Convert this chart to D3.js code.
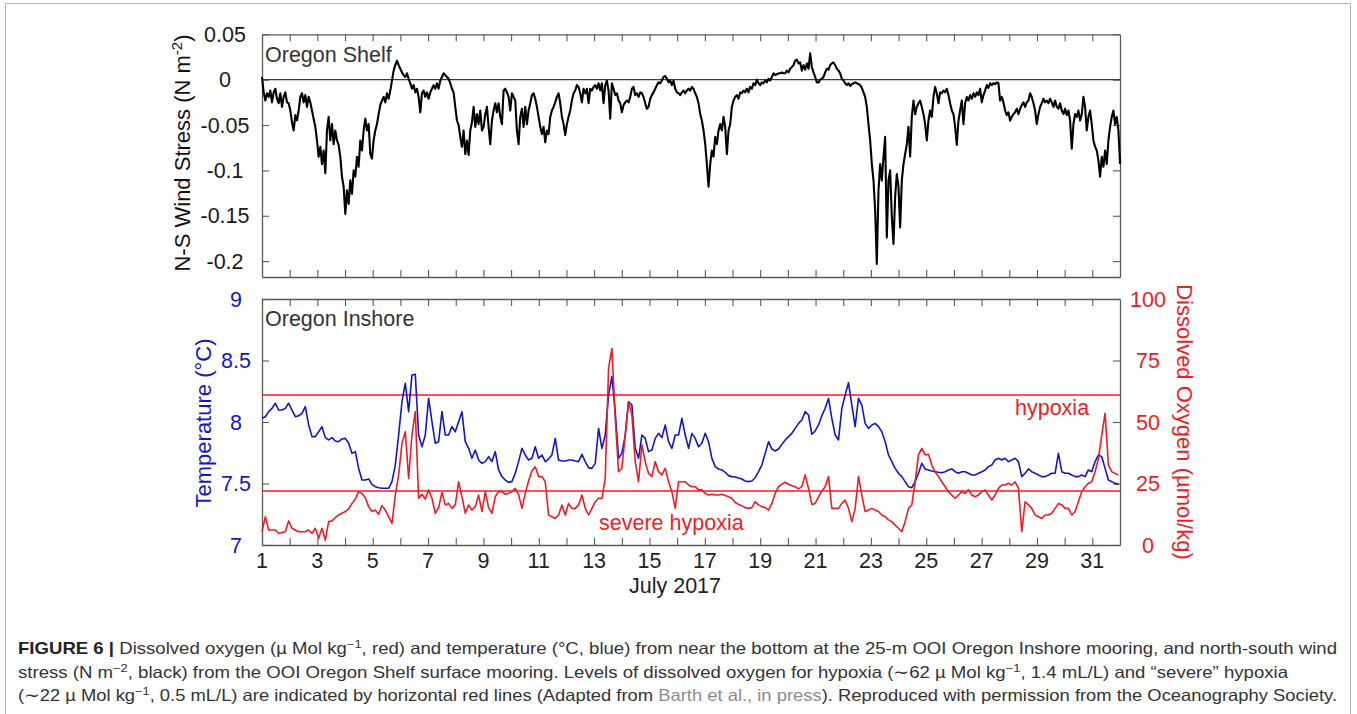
<!DOCTYPE html>
<html><head><meta charset="utf-8">
<script src="https://cdn.jsdelivr.net/npm/d3@7"></script>
<style>
body{margin:0;background:#fff}
svg{display:block}
text{font-family:"Liberation Sans",Arial,Helvetica,sans-serif}
</style>
</head><body>
<svg id="c" width="1357" height="714"></svg>
<script>
// ---------------- DATA ----------------
// N-S wind stress (N m^-2), Oregon Shelf, sampled every windStepDays from July 1
const windStartDay = 1;
const windStepDays = 0.0602;
const windStress = [
0.003,-0.014,-0.023,-0.015,-0.019,-0.012,-0.025,-0.014,-0.010,-0.021,
-0.026,-0.015,-0.030,-0.019,-0.014,-0.025,-0.026,-0.034,-0.047,-0.056,
-0.039,-0.045,-0.034,-0.019,-0.015,-0.025,-0.017,-0.030,-0.019,-0.025,
-0.034,-0.043,-0.052,-0.067,-0.085,-0.074,-0.093,-0.078,-0.103,-0.056,
-0.041,-0.067,-0.049,-0.071,-0.056,-0.067,-0.072,-0.085,-0.107,-0.118,
-0.148,-0.122,-0.137,-0.111,-0.126,-0.100,-0.107,-0.085,-0.096,-0.067,
-0.078,-0.056,-0.043,-0.056,-0.049,-0.082,-0.087,-0.067,-0.056,-0.049,
-0.038,-0.028,-0.023,-0.019,-0.025,-0.015,-0.021,-0.012,-0.001,0.010,
0.016,0.021,0.016,0.012,0.008,0.005,0.003,0.007,0.001,-0.004,
-0.010,-0.006,-0.014,-0.010,-0.019,-0.036,-0.015,-0.012,-0.019,-0.014,
-0.021,-0.014,-0.010,-0.006,-0.010,-0.004,-0.010,-0.001,0.003,0.007,
0.005,0.003,0.001,-0.004,-0.010,-0.014,-0.030,-0.045,-0.050,-0.063,
-0.074,-0.056,-0.082,-0.067,-0.083,-0.056,-0.047,-0.030,-0.052,-0.038,
-0.049,-0.034,-0.056,-0.052,-0.038,-0.030,-0.052,-0.071,-0.045,-0.034,
-0.026,-0.036,-0.026,-0.041,-0.049,-0.012,-0.010,-0.014,-0.019,-0.034,
-0.015,-0.019,-0.023,-0.056,-0.071,-0.041,-0.032,-0.052,-0.030,-0.049,
-0.034,-0.026,-0.017,-0.015,-0.021,-0.030,-0.041,-0.052,-0.060,
-0.052,-0.069,-0.056,-0.060,-0.041,-0.034,-0.030,-0.025,-0.019,-0.015,
-0.026,-0.041,-0.049,-0.061,-0.049,-0.041,-0.034,-0.023,-0.015,-0.012,
-0.006,-0.008,-0.015,-0.025,-0.010,-0.015,-0.010,-0.026,-0.010,-0.012,
-0.008,-0.006,-0.010,-0.004,-0.012,-0.004,-0.026,-0.006,-0.001,-0.012,
-0.043,-0.004,-0.010,-0.017,-0.015,-0.023,-0.026,-0.036,-0.028,-0.025,
-0.023,-0.025,-0.019,-0.010,-0.008,-0.017,-0.015,-0.019,-0.014,-0.015,
-0.019,-0.026,-0.032,-0.030,-0.021,-0.017,-0.014,-0.010,-0.006,-0.003,
-0.004,-0.001,0.003,0.004,0.001,-0.003,-0.001,-0.006,-0.001,-0.010,
-0.014,-0.015,-0.017,-0.014,-0.012,-0.015,-0.012,-0.010,-0.012,-0.008,
-0.010,-0.015,-0.019,-0.026,-0.038,-0.045,-0.056,-0.071,-0.093,-0.118,
-0.093,-0.078,-0.085,-0.063,-0.071,-0.056,-0.049,-0.056,-0.041,-0.052,
-0.082,-0.056,-0.049,-0.030,-0.023,-0.019,-0.017,-0.021,-0.014,-0.015,
-0.012,-0.014,-0.010,-0.014,-0.008,-0.010,-0.004,-0.006,0.000,-0.004,
-0.006,-0.003,-0.004,-0.001,-0.003,0.001,-0.001,0.003,0.007,0.005,
0.006,0.007,0.007,0.008,0.007,0.007,0.010,0.008,0.012,0.014,
0.016,0.021,0.022,0.018,0.019,0.010,0.016,0.011,0.018,0.012,
0.029,0.014,0.008,0.003,-0.003,-0.003,0.000,0.001,0.003,0.008,
0.012,0.011,
0.016,0.018,0.019,0.016,0.012,0.010,0.007,0.001,-0.001,-0.004,
-0.006,-0.004,-0.007,-0.005,-0.004,-0.003,-0.004,-0.005,-0.006,-0.009,
-0.014,-0.019,-0.030,-0.049,-0.067,-0.093,-0.111,-0.144,-0.203,-0.122,
-0.093,-0.111,-0.085,-0.063,-0.174,-0.111,-0.100,-0.151,-0.181,-0.129,
-0.104,-0.118,-0.163,-0.111,-0.093,-0.082,-0.071,-0.052,-0.085,-0.041,
-0.023,-0.038,-0.030,-0.026,-0.023,-0.030,-0.038,-0.049,-0.067,-0.045,
-0.034,-0.041,-0.019,-0.008,-0.015,-0.026,-0.014,-0.015,-0.012,-0.014,
-0.010,-0.017,-0.026,-0.034,-0.038,-0.052,-0.072,-0.045,-0.034,-0.023,
-0.049,-0.026,-0.019,-0.023,-0.017,-0.021,-0.015,-0.019,-0.014,-0.017,
-0.010,-0.025,-0.017,-0.012,-0.006,-0.009,-0.004,-0.006,-0.004,-0.005,
-0.003,-0.004,-0.023,-0.019,-0.025,-0.034,-0.039,-0.036,-0.045,-0.041,
-0.038,-0.036,-0.032,-0.038,-0.032,-0.028,-0.025,-0.030,-0.025,-0.023,
-0.015,-0.019,-0.026,-0.034,-0.049,-0.038,-0.030,-0.026,-0.021,-0.025,
-0.023,-0.026,-0.021,-0.025,-0.030,-0.023,-0.030,-0.032,-0.026,-0.034,
-0.038,-0.032,-0.039,-0.034,-0.045,-0.076,-0.049,-0.038,-0.041,-0.034,
-0.045,-0.038,-0.019,-0.030,-0.056,-0.041,-0.034,-0.049,-0.067,-0.074,
-0.078,-0.089,-0.107,-0.085,-0.096,-0.078,-0.093,-0.067,-0.052,-0.041,
-0.034,-0.049,-0.041,-0.056,-0.093
];

// Oregon Inshore bottom temperature (°C) and dissolved oxygen (µmol/kg), every bottomStepDays from July 1
const bottomStartDay = 1;
const bottomStepDays = 0.1204;
const temperature = [
8.030,8.043,8.084,8.111,8.152,8.097,8.097,8.111,8.152,8.097,
8.043,8.051,8.070,8.125,7.976,7.881,7.881,7.921,7.962,7.873,
7.854,7.873,7.845,7.840,7.862,7.867,7.827,7.745,7.759,7.623,
7.528,7.528,7.537,7.493,7.474,7.466,7.461,7.461,7.461,7.515,
7.650,7.894,8.165,8.314,8.084,8.382,8.387,7.894,7.799,7.894,
8.192,8.003,7.827,7.840,8.084,7.894,7.894,7.962,7.921,8.003,
8.084,7.840,7.786,7.705,7.772,7.691,7.664,7.678,7.718,7.678,
7.759,7.610,7.556,7.528,7.509,7.515,7.583,7.678,7.786,7.732,
7.691,7.705,7.799,7.705,7.732,
7.678,7.699,7.732,7.867,7.691,7.683,7.683,7.691,7.691,7.683,
7.678,7.737,7.678,7.629,7.623,7.664,7.948,7.786,7.894,8.220,
8.369,8.084,7.705,7.745,7.894,8.165,8.138,7.786,7.705,7.894,
7.867,7.759,7.772,7.867,7.908,7.873,7.976,7.840,7.786,7.894,
7.894,8.030,7.894,7.786,7.908,7.867,7.799,7.827,7.908,7.840,
7.705,7.637,7.618,7.610,7.591,7.564,7.556,7.553,7.545,7.537,
7.520,7.515,7.520,7.547,7.596,7.650,7.745,7.840,7.780,7.764,
7.780,7.818,7.854,7.881,7.908,7.948,7.989,8.016,8.084,8.057,
7.900,7.927,7.976,8.051,8.111,8.192,
8.030,7.894,7.854,8.111,8.220,8.320,8.138,7.962,8.192,8.138,
7.989,7.948,7.976,7.989,7.962,7.921,7.840,7.732,7.678,7.623,
7.583,7.556,7.515,7.474,7.466,7.515,7.583,7.664,7.618,7.610,
7.602,7.596,7.591,7.588,7.596,7.610,7.618,7.596,7.583,7.596,
7.596,7.583,7.569,7.569,7.583,7.596,7.610,7.637,7.650,7.691,
7.705,7.691,7.705,7.678,7.691,7.705,7.678,7.556,7.583,7.618,
7.596,7.583,7.569,7.556,7.556,7.569,7.583,7.583,7.745,7.596,
7.583,7.583,7.569,7.556,7.556,7.569,7.556,7.610,7.596,7.678,
7.732,7.718,7.623,7.528,7.515,7.501,7.493
];
const oxygen = [
5.4,11.5,6.1,6.1,6.1,4.7,5.1,5.4,9.8,6.8,
6.1,5.4,5.4,5.4,6.1,4.7,6.8,2.7,6.8,2.0,
9.5,9.8,11.1,12.2,12.9,13.6,14.6,16.9,18.7,21.7,
21.0,19.2,15.6,13.6,14.2,12.5,16.0,14.2,11.5,8.8,
20.3,28.5,41.3,46.1,27.1,44.7,54.2,19.0,20.6,18.7,
22.4,19.0,12.9,15.2,21.4,16.3,16.9,14.9,16.3,25.7,
19.6,12.9,16.3,14.2,15.6,20.3,13.6,21.7,15.2,12.9,
19.6,21.8,21.7,20.6,21.0,21.7,23.0,20.6,14.9,21.0,
26.0,30.1,31.8,27.8,27.8,
25.7,12.2,11.5,10.8,12.2,16.3,12.2,16.9,14.9,14.9,
16.3,20.3,14.9,12.2,14.9,17.6,19.0,19.0,27.1,71.8,
79.9,51.5,29.8,31.2,44.7,58.3,52.8,33.9,25.7,40.7,
33.9,29.1,27.8,33.9,29.8,28.5,31.2,25.7,21.7,14.9,
25.7,25.7,25.7,24.4,23.7,23.7,22.4,22.4,21.0,20.3,
20.6,20.3,20.3,20.6,20.1,19.6,19.0,17.3,16.5,16.0,
15.2,14.9,15.2,17.6,16.3,15.6,15.2,14.2,16.9,21.0,
23.7,24.7,25.5,24.7,24.1,23.7,22.8,23.7,28.5,23.0,
16.5,16.9,19.6,22.0,23.7,27.8,
14.9,14.9,14.9,16.9,18.3,14.9,9.5,14.9,27.8,20.3,
13.6,14.2,14.9,14.2,13.6,12.2,11.5,10.2,9.5,8.1,
6.8,5.4,9.5,14.9,16.3,25.7,36.6,39.3,36.6,36.9,
32.5,29.8,27.8,25.7,23.7,21.7,20.3,19.0,20.3,21.7,
21.0,22.4,20.3,19.6,20.3,21.7,22.4,20.3,18.3,20.3,
23.0,24.4,24.4,25.1,24.4,25.7,23.0,5.4,17.6,16.3,
14.9,12.2,11.5,10.8,12.2,12.2,12.9,14.9,16.9,16.3,
14.9,14.9,12.2,13.6,17.6,21.7,23.7,25.1,25.7,29.8,
35.2,44.7,53.5,32.5,29.8,29.1,28.5
];

// reference levels (µmol/kg)
const hypoxiaLevel = 61;
const severeHypoxiaLevel = 22;

// ticks
const dayTicks = [1,2,3,4,5,6,7,8,9,10,11,12,13,14,15,16,17,18,19,20,21,22,23,24,25,26,27,28,29,30,31];
const dayTickLabels = [1,3,5,7,9,11,13,15,17,19,21,23,25,27,29,31];
const windTicks = [0.05,0,-0.05,-0.1,-0.15,-0.2];
const windTickLabels = ["0.05","0","-0.05","-0.1","-0.15","-0.2"];
const tempTicks = [7,7.5,8,8.5,9];
const tempTickLabels = ["7","7.5","8","8.5","9"];
const oxyTicks = [0,25,50,75,100];
const oxyTickLabels = ["0","25","50","75","100"];

// ---------------- DRAWING ----------------
const svg = d3.select("#c");
const BLUE = "#1515c8", RED = "#ee1c24", FRAME = "#5a5a5a", FS = 21.5;

const x = d3.scaleLinear().domain([1, 32]).range([262, 1120]);
const yW = d3.scaleLinear().domain([-0.2175, 0.05]).range([277, 34.3]);
const yT = d3.scaleLinear().domain([7, 9]).range([545, 299]);
const yO = d3.scaleLinear().domain([0, 100]).range([545, 299]);

// figure box
svg.append("rect").attr("x", 5.5).attr("y", 3.5).attr("width", 1345).attr("height", 760)
  .attr("fill", "none").attr("stroke", "#b5b5b5").attr("stroke-width", 1);

function styleAxis(g){
  g.selectAll("path.domain").attr("stroke", FRAME).attr("stroke-width", 1.3);
  g.selectAll(".tick line").attr("stroke", FRAME).attr("stroke-width", 1.1);
  g.selectAll(".tick text").remove();
}
function panelFrame(yScale, ticksL, ticksR, yScaleR){
  const [b, t] = yScale.range();
  svg.append("g").attr("transform", `translate(0,${t})`)
    .call(d3.axisTop(x).tickValues(dayTicks).tickSize(-7).tickSizeOuter(0)).call(styleAxis);
  svg.append("g").attr("transform", `translate(0,${b})`)
    .call(d3.axisBottom(x).tickValues(dayTicks).tickSize(-7).tickSizeOuter(0)).call(styleAxis);
  svg.append("g").attr("transform", `translate(${x(1)},0)`)
    .call(d3.axisLeft(yScale).tickValues(ticksL).tickSize(-7).tickSizeOuter(0)).call(styleAxis);
  svg.append("g").attr("transform", `translate(${x(32)},0)`)
    .call(d3.axisRight(yScaleR).tickValues(ticksR).tickSize(-7).tickSizeOuter(0)).call(styleAxis);
}

// ---- top panel ----
panelFrame(yW, windTicks, windTicks, yW);
svg.append("line").attr("x1", x(1)).attr("x2", x(32)).attr("y1", yW(0)).attr("y2", yW(0))
  .attr("stroke", "#3a3a3a").attr("stroke-width", 1.2);
const windLine = d3.line().x((d, i) => x(windStartDay + i * windStepDays)).y(d => yW(d));
svg.append("path").datum(windStress).attr("d", windLine)
  .attr("fill", "none").attr("stroke", "#000").attr("stroke-width", 2.1).attr("stroke-linejoin", "round");

svg.selectAll(".wlab").data(windTicks).enter().append("text")
  .attr("x", 225).attr("y", d => yW(d)).attr("dy", "0.36em")
  .attr("text-anchor", "middle").attr("font-size", FS).attr("fill", "#1a1a1a")
  .text((d, i) => windTickLabels[i]);

svg.append("text").attr("x", 265).attr("y", 61.5).attr("font-size", FS).attr("fill", "#333").text("Oregon Shelf");

const wt = svg.append("text").attr("transform", "translate(190,153) rotate(-90)")
  .attr("text-anchor", "middle").attr("font-size", 22).attr("fill", "#111");
wt.append("tspan").text("N-S Wind Stress (N m");
wt.append("tspan").attr("dy", -8).attr("font-size", 15).text("-2");
wt.append("tspan").attr("dy", 8).text(")");

// ---- bottom panel ----
panelFrame(yT, tempTicks, oxyTicks, yO);
[hypoxiaLevel, severeHypoxiaLevel].forEach(v => {
  svg.append("line").attr("x1", x(1)).attr("x2", x(32)).attr("y1", yO(v)).attr("y2", yO(v))
    .attr("stroke", RED).attr("stroke-width", 1.5);
});
const tLine = d3.line().x((d, i) => x(bottomStartDay + i * bottomStepDays)).y(d => yT(d));
const oLine = d3.line().x((d, i) => x(bottomStartDay + i * bottomStepDays)).y(d => yO(d));
svg.append("path").datum(temperature).attr("d", tLine)
  .attr("fill", "none").attr("stroke", BLUE).attr("stroke-width", 1.6).attr("stroke-linejoin", "round");
svg.append("path").datum(oxygen).attr("d", oLine)
  .attr("fill", "none").attr("stroke", RED).attr("stroke-width", 1.6).attr("stroke-linejoin", "round");

svg.selectAll(".tlab").data(tempTicks).enter().append("text")
  .attr("x", 236).attr("y", d => yT(d)).attr("dy", "0.36em")
  .attr("text-anchor", "middle").attr("font-size", FS).attr("fill", BLUE)
  .text((d, i) => tempTickLabels[i]);
svg.selectAll(".olab").data(oxyTicks).enter().append("text")
  .attr("x", 1148).attr("y", d => yO(d)).attr("dy", "0.36em")
  .attr("text-anchor", "middle").attr("font-size", FS).attr("fill", RED)
  .text((d, i) => oxyTickLabels[i]);
svg.selectAll(".xlab").data(dayTickLabels).enter().append("text")
  .attr("x", d => x(d)).attr("y", 568)
  .attr("text-anchor", "middle").attr("font-size", FS).attr("fill", "#222")
  .text(d => d);

svg.append("text").attr("x", 675).attr("y", 593).attr("text-anchor", "middle")
  .attr("font-size", FS).attr("fill", "#222").text("July 2017");
svg.append("text").attr("x", 265).attr("y", 326).attr("font-size", FS).attr("fill", "#333").text("Oregon Inshore");
svg.append("text").attr("x", 1015).attr("y", 415).attr("font-size", FS).attr("fill", RED).text("hypoxia");
svg.append("text").attr("x", 599).attr("y", 530).attr("font-size", FS).attr("fill", RED).text("severe hypoxia");

svg.append("text").attr("transform", "translate(211,423) rotate(-90)")
  .attr("text-anchor", "middle").attr("font-size", 22).attr("fill", BLUE).text("Temperature (°C)");
svg.append("text").attr("transform", "translate(1177,422) rotate(90)")
  .attr("text-anchor", "middle").attr("font-size", 22).attr("fill", RED).text("Dissolved Oxygen (µmol/kg)");

// ---- caption ----
const captionLines = [
  {y: 654, len: 1319, parts: [["FIGURE 6 |", "b"], [" Dissolved oxygen (µ Mol kg"], ["−1", "sup"], [", red) and temperature (°C, blue) from near the bottom at the 25-m OOI Oregon Inshore mooring, and north-south wind"]]},
  {y: 678, len: 1270, parts: [["stress (N m"], ["−2", "sup"], [", black) from the OOI Oregon Shelf surface mooring. Levels of dissolved oxygen for hypoxia (∼62 µ Mol kg"], ["−1", "sup"], [", 1.4 mL/L) and “severe” hypoxia"]]},
  {y: 701, len: 1319, parts: [["(∼22 µ Mol kg"], ["−1", "sup"], [", 0.5 mL/L) are indicated by horizontal red lines (Adapted from "], ["Barth et al., in press", "link"], ["). Reproduced with permission from the Oceanography Society."]]}
];
captionLines.forEach(L => {
  const t = svg.append("text").attr("x", 18).attr("y", L.y).attr("font-size", 16.5).attr("fill", "#333")
    .attr("textLength", L.len).attr("lengthAdjust", "spacingAndGlyphs");
  let prevSup = false;
  L.parts.forEach(([s, kind]) => {
    const sp = t.append("tspan").text(s);
    if (kind === "b") sp.attr("font-weight", "bold").attr("fill", "#222");
    if (kind === "link") sp.attr("fill", "#8c8c8c");
    if (kind === "sup") { sp.attr("dy", -6).attr("font-size", 11.5); prevSup = true; }
    else if (prevSup) { sp.attr("dy", 6); prevSup = false; }
  });
});
</script>
</body></html>
